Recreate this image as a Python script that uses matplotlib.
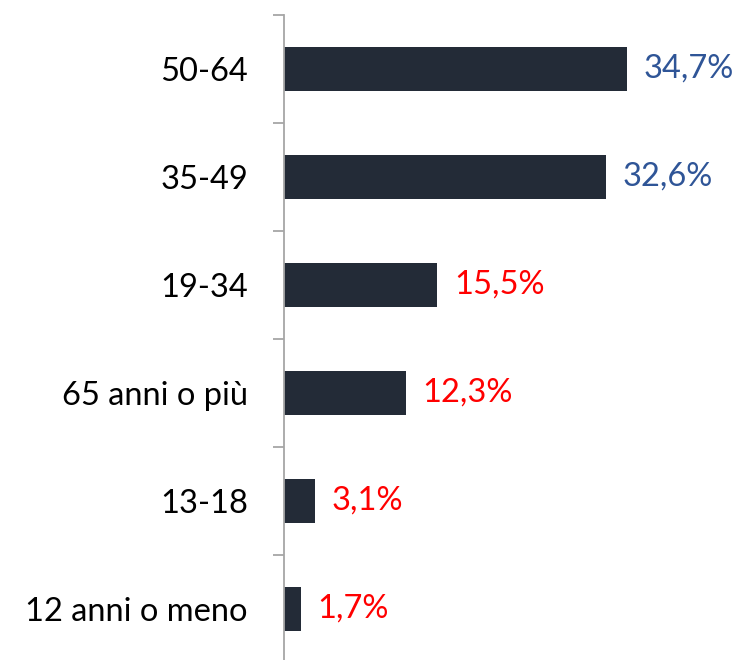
import matplotlib
matplotlib.use("Agg")
import matplotlib.pyplot as plt
import numpy as np

categories = ["50-64", "35-49", "19-34", "65 anni o più", "13-18", "12 anni o meno"]
values = [34.7, 32.6, 15.5, 12.3, 3.1, 1.7]
value_labels = ["34,7%", "32,6%", "15,5%", "12,3%", "3,1%", "1,7%"]
label_colors = ["#2F5597", "#2F5597", "#FF0000", "#FF0000", "#FF0000", "#FF0000"]

plt.rcParams['font.family'] = ['Lato', 'DejaVu Sans']
FS = 23.5

fig = plt.figure(figsize=(7.41, 6.6), dpi=100)
ax = fig.add_axes([284/741, 1 - 663/660, 445/741, 648/660])

n = len(categories)
y = np.arange(n)[::-1]
ax.barh(y, values, height=0.4, color="#232B37")
ax.set_ylim(-0.5, n - 0.5)
ax.set_xlim(0, 45)

for yi, v, lab, c in zip(y, values, value_labels, label_colors):
    ax.annotate(lab, (v, yi), xytext=(12, 0), textcoords="offset points",
                va="center", ha="left", color=c, fontsize=FS)

ax.set_yticks(y)
ax.set_yticklabels(categories, fontsize=FS)
ax.set_yticks(np.arange(-0.5, n, 1.0), minor=True)
ax.tick_params(axis="y", which="major", length=0, pad=26)
ax.tick_params(axis="y", which="minor", length=8, color="#A6A6A6", width=1.3)
ax.set_xticks([])
for s in ["top", "right", "bottom"]:
    ax.spines[s].set_visible(False)
ax.spines["left"].set_color("#A6A6A6")
ax.spines["left"].set_linewidth(1.3)

fig.savefig("out.png", dpi=100)
